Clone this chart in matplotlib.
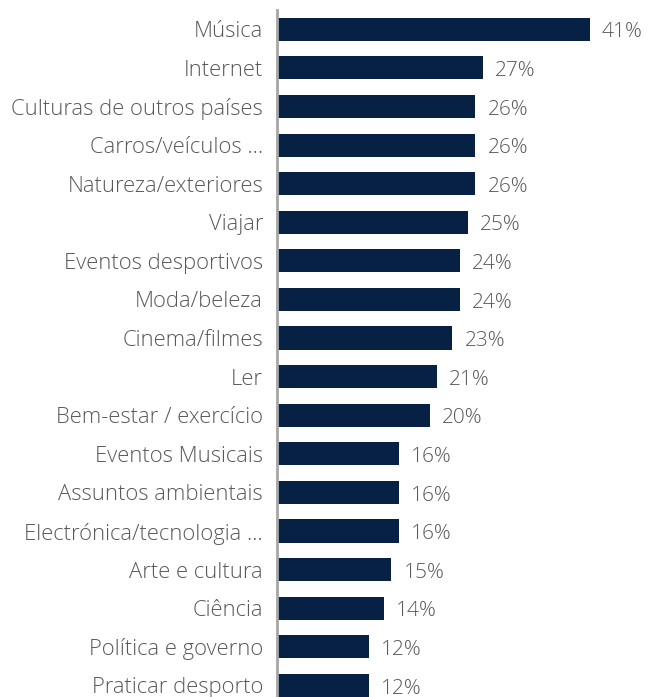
import matplotlib
matplotlib.use("Agg")
import matplotlib.pyplot as plt

categorias = ["Música", "Internet", "Culturas de outros países", "Carros/veículos ...",
              "Natureza/exteriores", "Viajar", "Eventos desportivos", "Moda/beleza",
              "Cinema/filmes", "Ler", "Bem-estar / exercício", "Eventos Musicais",
              "Assuntos ambientais", "Electrónica/tecnologia ...", "Arte e cultura",
              "Ciência", "Política e governo", "Praticar desporto"]
valores = [41, 27, 26, 26, 26, 25, 24, 24, 23, 21, 20, 16, 16, 16, 15, 14, 12, 12]

plt.rcParams['font.family'] = ['Open Sans', 'DejaVu Sans']

fig = plt.figure(figsize=(6.48, 6.97), dpi=100)
ax = fig.add_axes([277/648, 0, 366/648, 687/697])

pos = list(range(len(categorias)))
ax.barh(pos, valores, height=0.6, color='#062144')
for p, v in zip(pos, valores):
    ax.text(v + 1.6, p + 0.08, "{}%".format(v), va='center', ha='left',
            fontsize=15, color='#595959', fontweight='light')

ax.set_yticks(pos)
ax.set_yticklabels(categorias, fontsize=15.8, color='#595959', fontweight='light')
ax.tick_params(axis='y', length=0, pad=10)
ax.set_xticks([])
ax.set_xlim(0, 48)
ax.set_ylim(17.3, -0.5)
for s in ['top', 'right', 'bottom']:
    ax.spines[s].set_visible(False)
ax.spines['left'].set_color('#a6a6a6')
ax.spines['left'].set_linewidth(2)

fig.savefig('out.png', dpi=100)
